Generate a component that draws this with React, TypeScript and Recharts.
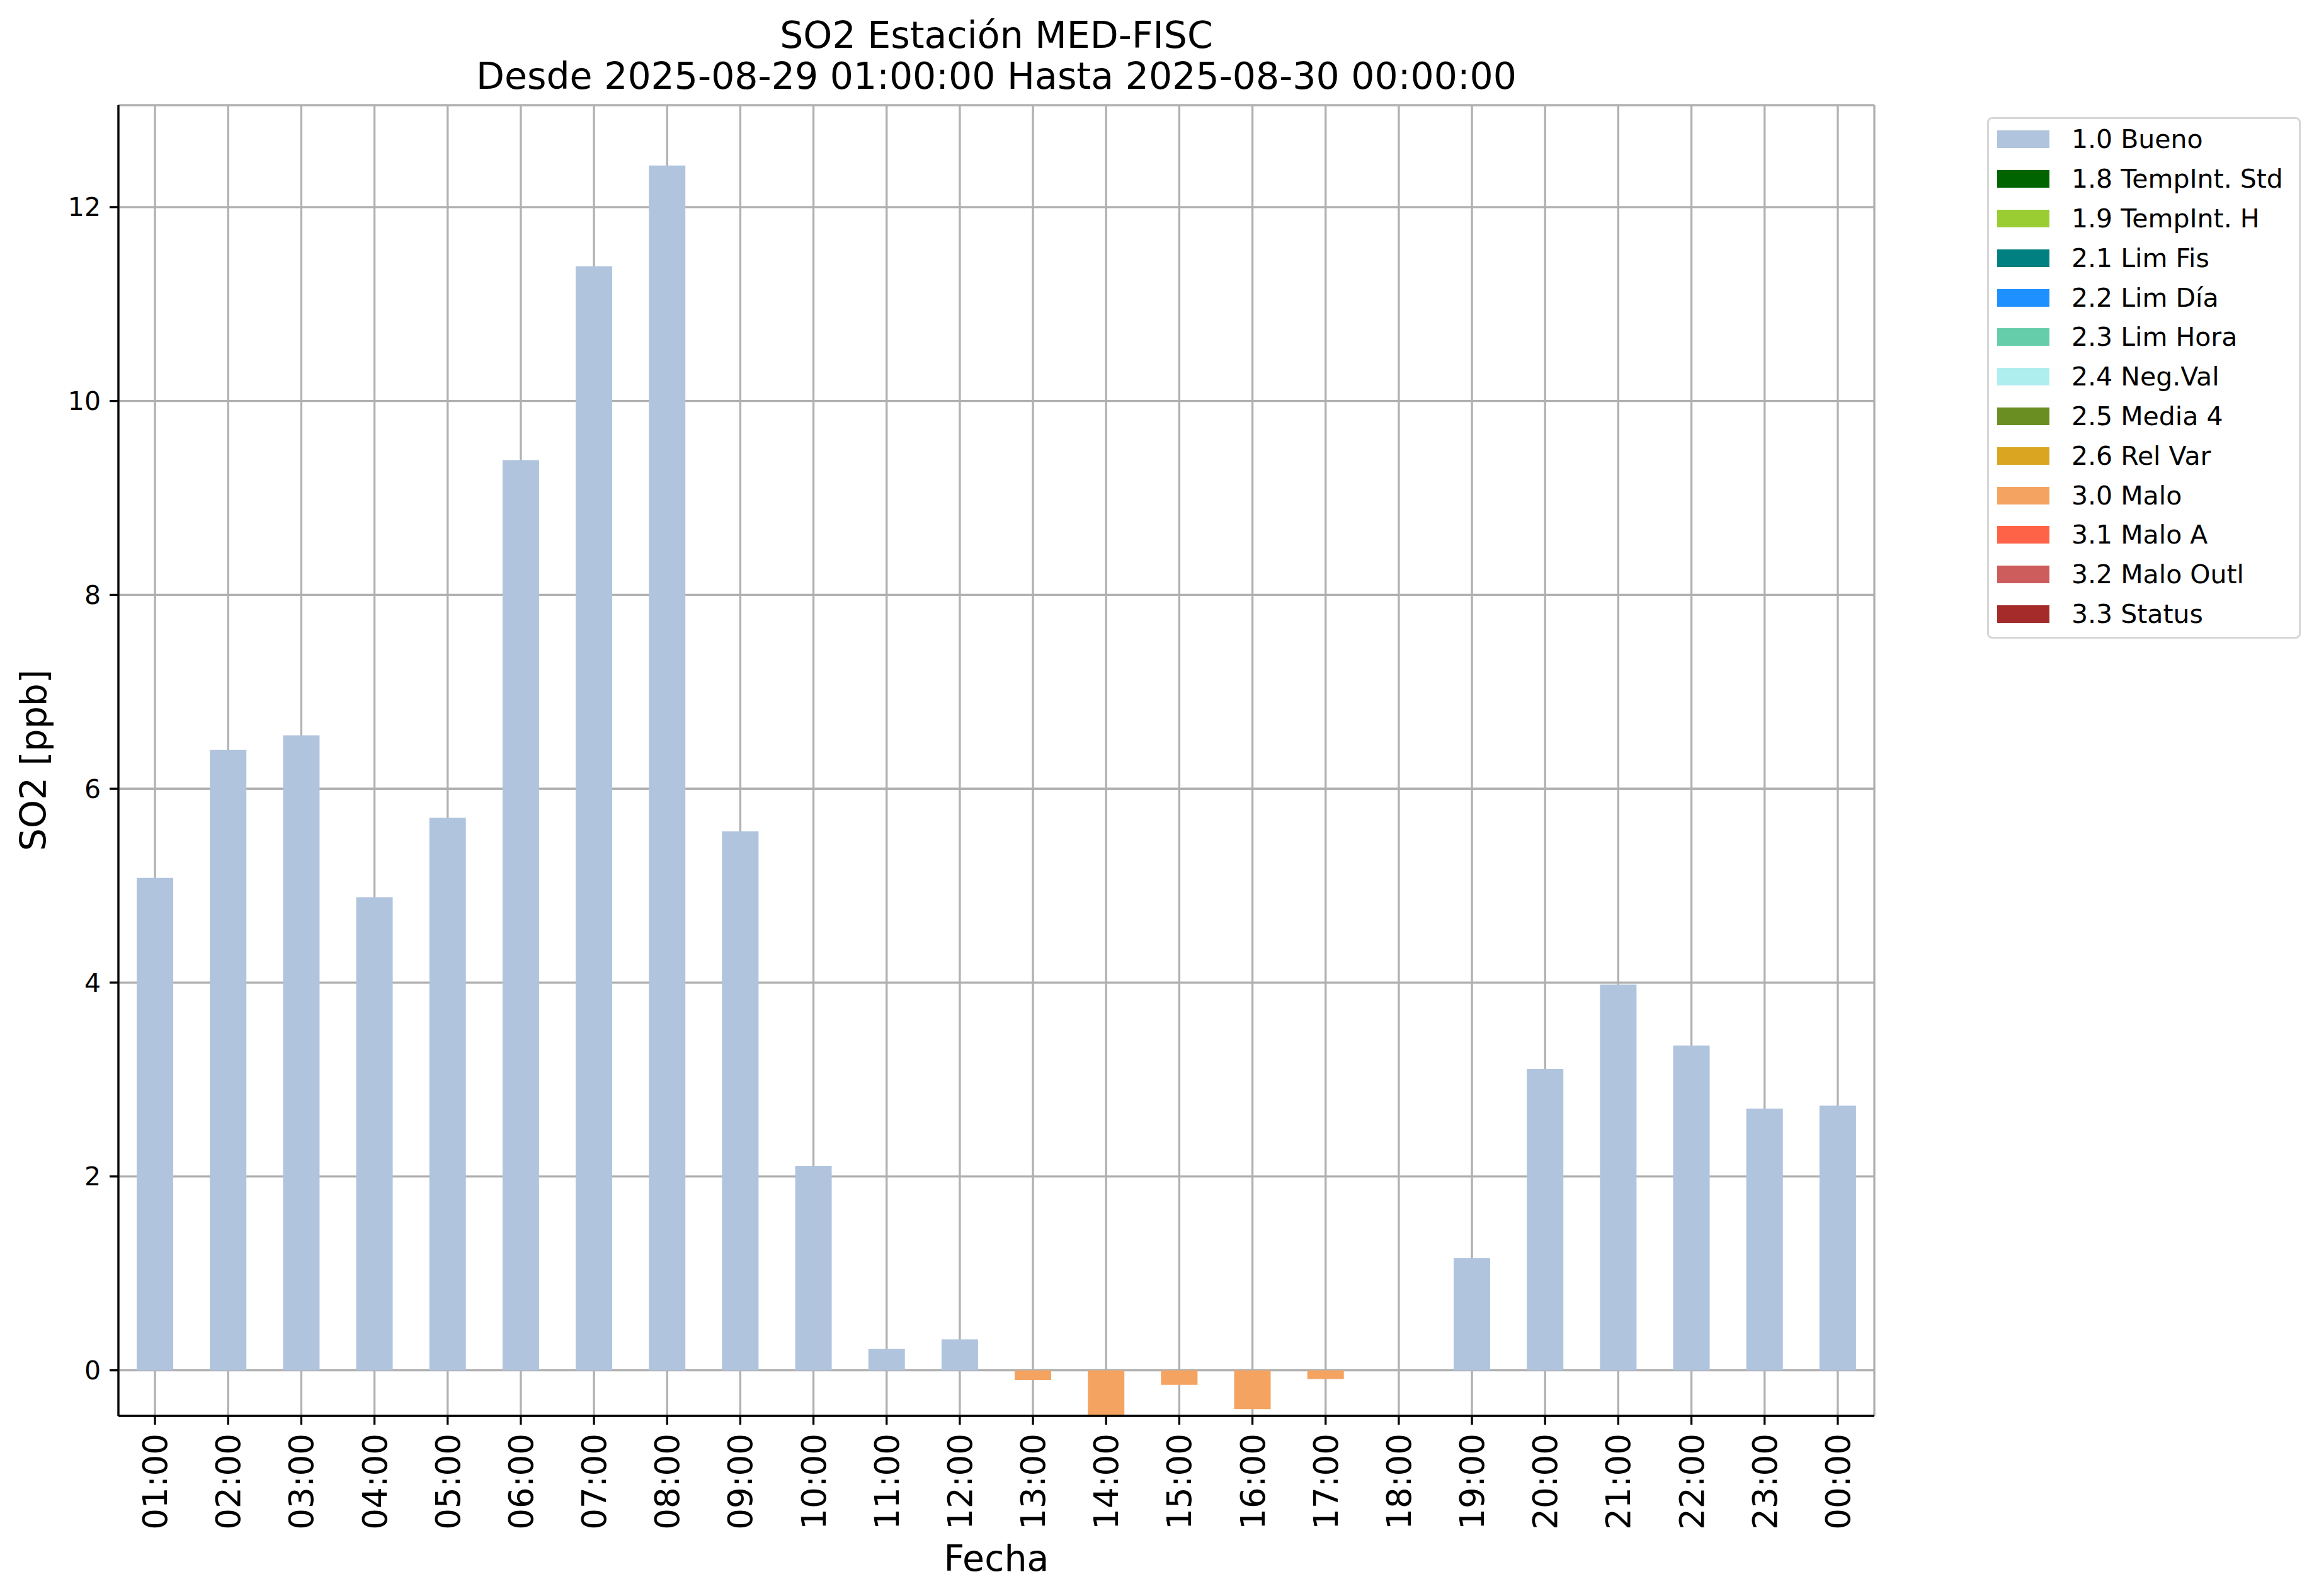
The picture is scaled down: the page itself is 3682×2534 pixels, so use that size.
import React from 'react';
import { BarChart, Bar, XAxis, YAxis, CartesianGrid, Legend, ReferenceArea } from 'recharts';

// hourly SO2 averages, station MED-FISC, 2025-08-29 01:00 -> 2025-08-30 00:00
const hours = [
  '01:00', '02:00', '03:00', '04:00', '05:00', '06:00', '07:00', '08:00',
  '09:00', '10:00', '11:00', '12:00', '13:00', '14:00', '15:00', '16:00',
  '17:00', '18:00', '19:00', '20:00', '21:00', '22:00', '23:00', '00:00',
];

// flag 1.0 (Bueno)
const bueno = [
  5.08, 6.4, 6.55, 4.88, 5.7, 9.39, 11.39, 12.43,
  5.56, 2.11, 0.22, 0.32, null, null, null, null,
  null, null, 1.16, 3.11, 3.98, 3.35, 2.7, 2.73,
];

// flag 3.0 (Malo)
const malo = [
  null, null, null, null, null, null, null, null,
  null, null, null, null, -0.1, -0.47, -0.15, -0.4,
  -0.09, null, null, null, null, null, null, null,
];

const flagLabels = [
  '1.0 Bueno', '1.8 TempInt. Std', '1.9 TempInt. H', '2.1 Lim Fis', '2.2 Lim Día',
  '2.3 Lim Hora', '2.4 Neg.Val', '2.5 Media 4', '2.6 Rel Var', '3.0 Malo',
  '3.1 Malo A', '3.2 Malo Outl', '3.3 Status',
];
const flagColors = [
  '#b0c4de', '#006400', '#9acd32', '#008080', '#1e90ff',
  '#66cdaa', '#afeeee', '#6b8e23', '#daa520', '#f4a460',
  '#ff6347', '#cd5c5c', '#a52a2a',
];

const yTicks = [0, 2, 4, 6, 8, 10, 12];

const FONT = '"DejaVu Sans", sans-serif';
const W = 3682;
const H = 2534;
const LW = 3.3;

const data = hours.map((hora, i) => ({ hora, bueno: bueno[i], malo: malo[i] }));

const allVals = [...bueno, ...malo].filter((v): v is number => v !== null);
const yMin = Math.min(...allVals);
const yMax = Math.max(...allVals) * 1.05;

const HourTick = (props: any) => {
  const { x, y, payload } = props;
  return (
    <text
      x={x}
      y={y}
      transform={`rotate(-90, ${x}, ${y})`}
      textAnchor="end"
      dy="0.36em"
      fontSize={53}
      fontFamily={FONT}
      fill="#000"
    >
      {payload.value}
    </text>
  );
};

const FlagLegend = () => (
  <div
    style={{
      width: 498,
      height: 828,
      boxSizing: 'border-box',
      border: '3px solid #d6d6d6',
      borderRadius: 8,
      background: '#fff',
      fontFamily: FONT,
      fontSize: 41,
      color: '#000',
      paddingTop: 1,
    }}
  >
    {flagLabels.map((label, i) => (
      <div key={label} style={{ height: 62.8, display: 'flex', alignItems: 'center' }}>
        <div style={{ width: 83, height: 28, marginLeft: 13, background: flagColors[i] }} />
        <span style={{ marginLeft: 35, whiteSpace: 'nowrap' }}>{label}</span>
      </div>
    ))}
  </div>
);

export default function App() {
  return (
    <div style={{ position: 'absolute', left: 0, top: 0, width: W, height: H, background: '#fff' }}>
      <BarChart
        width={W}
        height={H}
        data={data}
        margin={{ top: 167, right: 706, bottom: 0, left: 0 }}
        barCategoryGap="25%"
      >
        <XAxis
          dataKey="hora"
          interval={0}
          height={286}
          tick={<HourTick />}
          tickSize={14}
          tickMargin={14}
          axisLine={{ stroke: '#000', strokeWidth: LW }}
          tickLine={{ stroke: '#000', strokeWidth: LW }}
        />
        <YAxis
          type="number"
          domain={[yMin, yMax]}
          ticks={yTicks}
          allowDataOverflow
          width={188}
          tickSize={14}
          tickMargin={14}
          tick={{ fontSize: 41, fontFamily: FONT, fill: '#000' }}
          axisLine={{ stroke: '#000', strokeWidth: LW }}
          tickLine={{ stroke: '#000', strokeWidth: LW }}
        />
        <Bar dataKey="bueno" stackId="a" fill={flagColors[0]} isAnimationActive={false} />
        <Bar dataKey="malo" stackId="a" fill={flagColors[9]} isAnimationActive={false} />
        <CartesianGrid stroke="#b0b0b0" strokeWidth={LW} />
        <ReferenceArea fill="none" stroke="#000" strokeWidth={LW} ifOverflow="visible" />
        <Legend
          layout="vertical"
          align="center"
          verticalAlign="middle"
          content={<FlagLegend />}
          wrapperStyle={{ left: 3155, top: 186, width: 498, height: 828 }}
        />
      </BarChart>
      <svg
        width={W}
        height={H}
        style={{ position: 'absolute', left: 0, top: 0, pointerEvents: 'none' }}
        fontFamily={FONT}
      >
        <text x={1582} y={76} textAnchor="middle" fontSize={58.5}>SO2 Estación MED-FISC</text>
        <text x={1582} y={141} textAnchor="middle" fontSize={58.5}>
          Desde 2025-08-29 01:00:00 Hasta 2025-08-30 00:00:00
        </text>
        <text x={1582} y={2494} textAnchor="middle" fontSize={57}>Fecha</text>
        <text transform="translate(73, 1207) rotate(-90)" textAnchor="middle" fontSize={57}>
          SO2 [ppb]
        </text>
      </svg>
    </div>
  );
}
